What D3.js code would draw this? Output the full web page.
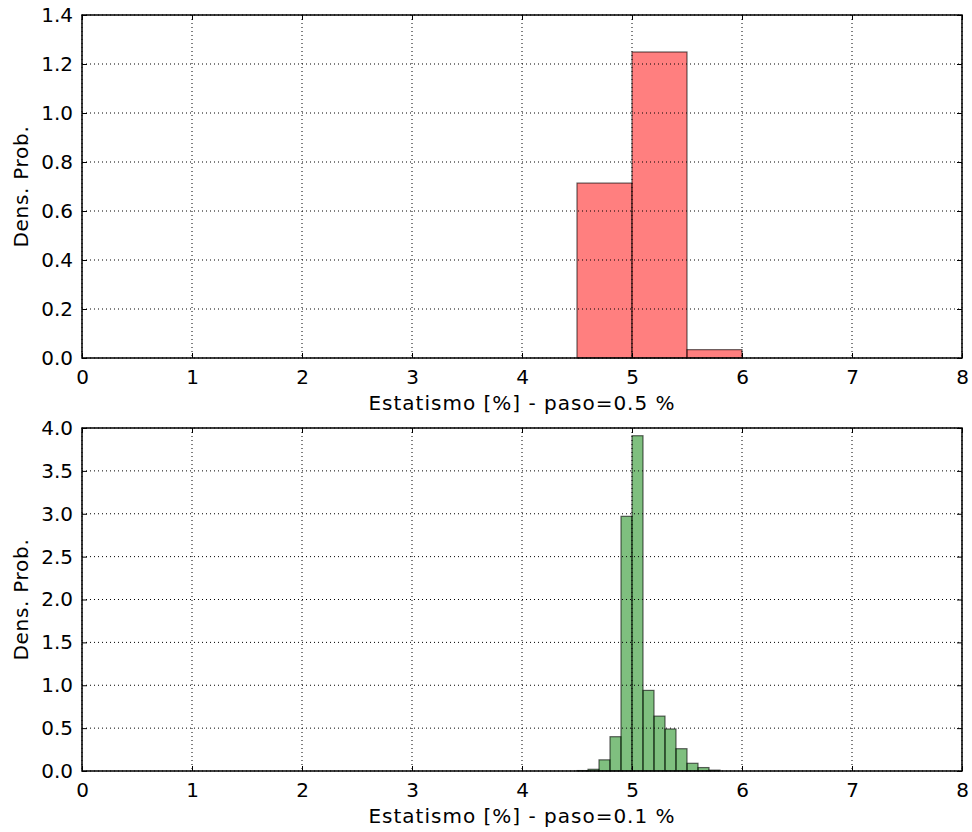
<!DOCTYPE html>
<html><head><meta charset="utf-8">
<script src="https://cdn.jsdelivr.net/npm/d3@7"></script>
<style>body{margin:0;background:#fff;} text{font-family:"DejaVu Sans",sans-serif;}</style>
</head><body><svg id="c" width="972" height="832"></svg>
<script>
// ---- data ----
const topBinEdges = [0,0.5,1,1.5,2,2.5,3,3.5,4,4.5,5,5.5,6,6.5,7,7.5,8];
const topValues = [0,0,0,0,0,0,0,0,0,0.714,1.249,0.034,0,0,0,0];
const botBinStep = 0.1;
const botValues = [
 0,0,0,0,0,0,0,0,0,0, 0,0,0,0,0,0,0,0,0,0,
 0,0,0,0,0,0,0,0,0,0, 0,0,0,0,0,0,0,0,0,0,
 0,0,0,0,0,
 0.005,0.02,0.13,0.40,2.97,3.91,0.94,0.64,0.49,0.26,0.09,0.04,0.01,
 0,0,0,0,0,0,0,0,0,0,0,0,0,0,0,0,0,0,0,0,0,0];
const xTicks = [0,1,2,3,4,5,6,7,8];
const topYTicks = [0,0.2,0.4,0.6,0.8,1.0,1.2,1.4];
const botYTicks = [0,0.5,1.0,1.5,2.0,2.5,3.0,3.5,4.0];
const topXLabel = "Estatismo [%] - paso=0.5 %";
const botXLabel = "Estatismo [%] - paso=0.1 %";
const yLabel = "Dens. Prob.";

const svg = d3.select("#c");
const L = 82, W = 880, H = 343;
const FS = 20;

function panel(top, edges, values, yMax, yTicks, fmt, color, xlabel){
  const g = svg.append("g").attr("transform",`translate(${L},${top})`);
  const x = d3.scaleLinear().domain([0,8]).range([0,W]);
  const y = d3.scaleLinear().domain([0,yMax]).range([H,0]);
  const bins = values.map((v,i)=>({x0:edges[i],x1:edges[i+1],v}));
  g.selectAll("rect.bar").data(bins).join("rect").attr("class","bar")
    .attr("x",d=>x(d.x0)).attr("width",d=>x(d.x1)-x(d.x0))
    .attr("y",d=>y(d.v)).attr("height",d=>y(0)-y(d.v))
    .attr("fill",color).attr("fill-opacity",0.5)
    .attr("stroke","#000").attr("stroke-opacity",0.6).attr("stroke-width",1.2);
  // grid
  xTicks.forEach(t=>{ g.append("line").attr("x1",x(t)).attr("x2",x(t)).attr("y1",0).attr("y2",H)
     .attr("stroke","#000").attr("stroke-width",1).attr("stroke-dasharray","1,3"); });
  yTicks.forEach(t=>{ g.append("line").attr("x1",0).attr("x2",W).attr("y1",y(t)).attr("y2",y(t))
     .attr("stroke","#000").attr("stroke-width",1).attr("stroke-dasharray","1,3"); });
  // axes with inward ticks
  const ax = d3.axisBottom(x).tickValues(xTicks).tickFormat(d3.format("d")).tickSizeInner(-5).tickSizeOuter(0).tickPadding(11.5);
  const ay = d3.axisLeft(y).tickValues(yTicks).tickFormat(fmt).tickSizeInner(-5).tickSizeOuter(0).tickPadding(9);
  const axT = d3.axisTop(x).tickValues(xTicks).tickFormat("").tickSizeInner(-5).tickSizeOuter(0);
  const ayR = d3.axisRight(y).tickValues(yTicks).tickFormat("").tickSizeInner(-5).tickSizeOuter(0);
  const gx = g.append("g").attr("transform",`translate(0,${H})`).call(ax);
  const gy = g.append("g").call(ay);
  const gt = g.append("g").call(axT);
  const gr = g.append("g").attr("transform",`translate(${W},0)`).call(ayR);
  [gx,gy,gt,gr].forEach(a=>{ a.select(".domain").remove(); a.selectAll("line").attr("stroke","#000").attr("stroke-width",1);
    a.selectAll("text").attr("font-size",FS).attr("fill","#000").attr("font-family","DejaVu Sans"); });
  g.append("rect").attr("x",0).attr("y",0).attr("width",W).attr("height",H)
    .attr("fill","none").attr("stroke","#000").attr("stroke-width",1.5);
  g.append("text").attr("x",W/2).attr("y",H+52).attr("text-anchor","middle")
    .attr("font-size",FS).attr("letter-spacing","1px").text(xlabel);
  g.append("text").attr("transform",`translate(${-54.5},${H/2}) rotate(-90)`).attr("text-anchor","middle")
    .attr("font-size",FS).attr("letter-spacing","0.7px").text(yLabel);
}
panel(15, topBinEdges, topValues, 1.4, topYTicks, d3.format(".1f"), "#ff0000", topXLabel);
const botEdges = d3.range(botValues.length+1).map(i=>+(i*botBinStep).toFixed(1));
panel(428, botEdges, botValues, 4.0, botYTicks, d3.format(".1f"), "#008000", botXLabel);
</script></body></html>
